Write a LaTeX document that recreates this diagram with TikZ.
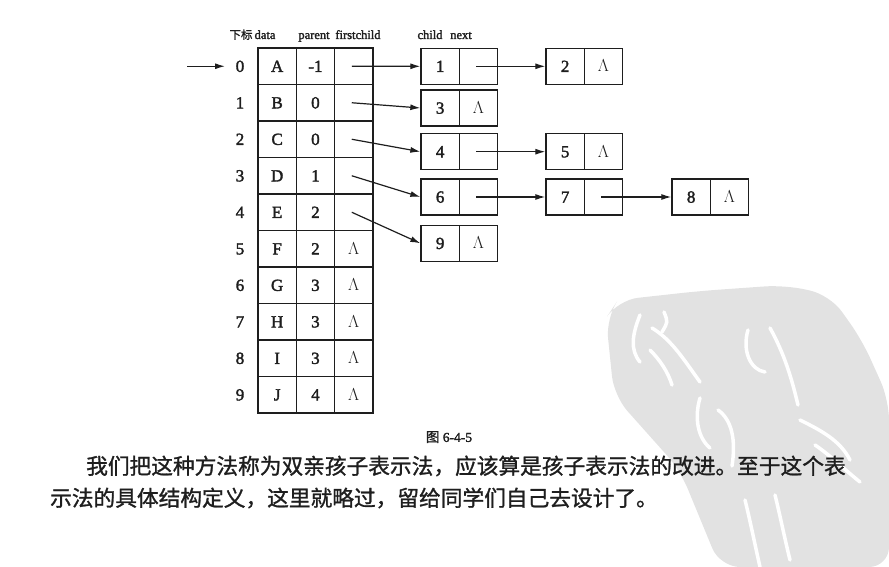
\documentclass[tikz,border=0pt]{standalone}
\usepackage{fontspec}
\setmainfont{Liberation Serif}
\newfontfamily\tabfont[FakeBold=2]{Liberation Serif}
\newfontfamily\cjkb[FakeBold=1.2]{Noto Sans CJK SC}
\usetikzlibrary{arrows.meta}
\definecolor{ink}{HTML}{1E1E1E}
\definecolor{wm}{HTML}{E2E2E2}
\tikzset{
  cell/.style={draw=ink, line width=1.3pt, minimum width=38.3pt, minimum height=36.5pt, inner sep=0pt, text=ink, text height=11.3pt, text depth=0pt, font=\tabfont\fontsize{17}{17}\selectfont},
  lcell/.style={cell, minimum height=36pt},
  idx/.style={text=ink, inner sep=0pt, text height=11.3pt, text depth=0pt, font=\tabfont\fontsize{17}{17}\selectfont},
  hdr/.style={text=ink, inner sep=0pt, anchor=base, font=\tabfont\fontsize{12.5}{12.5}\selectfont},
  arr/.style={draw=ink, line width=1.2pt, -{Latex[length=10pt,width=6pt]}},
  para/.style={text=ink, inner sep=0pt, anchor=west, font=\cjkb\fontsize{21.7}{26}\selectfont},
  wstroke/.style={draw=white, line width=3.5pt, line cap=round}
}
\begin{document}
\begin{tikzpicture}[x=1pt,y=-1pt]
\useasboundingbox (0,0) rectangle (889,567);
% watermark
\fill[wm, rounded corners=20pt] (606,318) -- (618,300) -- (700,291) -- (785,285) -- (830,295) -- (862,340) -- (889,400) -- (889,567) -- (720,567) -- (680,470) -- (614,396) -- cycle;
\draw[wstroke] (640,315) .. controls (632,335) and (630,350) .. (640,362);
\draw[wstroke] (652,328) .. controls (672,340) and (684,360) .. (700,382);
\draw[wstroke] (664,312) .. controls (668,322) .. (662,332);
\draw[wstroke] (650,350) .. controls (660,360) and (668,372) .. (672,385);
\draw[wstroke] (748,330) .. controls (742,350) and (750,370) .. (765,372);
\draw[wstroke] (770,328) .. controls (785,355) and (792,380) .. (798,405);
\draw[wstroke] (700,398) .. controls (694,418) and (698,438) .. (710,448);
\draw[wstroke] (718,410) .. controls (732,420) and (736,440) .. (732,466);
\draw[wstroke] (800,420) .. controls (820,430) and (840,440) .. (850,460);
\draw[wstroke] (815,445) .. controls (830,455) and (845,470) .. (860,482);
\draw[wstroke] (745,500) .. controls (750,520) and (755,545) .. (760,567);
\draw[wstroke] (775,495) .. controls (780,515) and (785,540) .. (790,560);
% header
\node[hdr] (h0) at (241,39) {\cjkb\fontsize{11.5}{11.5}\selectfont 下标};
\node[hdr] (h1) at (265,39) {data};
\node[hdr] (h2) at (314,39) {parent};
\node[hdr] (h3) at (358,39) {firstchild};
\node[hdr] (h4) at (430,39) {child};
\node[hdr] (h5) at (461,39) {next};
% table
\foreach \i/\d/\p/\f in {0/A/-1/,1/B/0/,2/C/0/,3/D/1/,4/E/2/,5/F/2/$\Lambda$,6/G/3/$\Lambda$,7/H/3/$\Lambda$,8/I/3/$\Lambda$,9/J/4/$\Lambda$}{
  \node[idx] (i\i) at (240,{66.25+36.5*\i}) {\i};
  \node[cell] (d\i) at (277.15,{66.25+36.5*\i}) {\d};
  \node[cell] (p\i) at (315.45,{66.25+36.5*\i}) {\p};
  \node[cell] (f\i) at (353.75,{66.25+36.5*\i}) {\f};
}
% linked nodes
\node[lcell] (c1) at (440.15,66.3) {1};
\node[lcell] (n1) at (478.45,66.3) {};
\node[lcell] (c2) at (565.15,66.3) {2};
\node[lcell] (n2) at (603.45,66.3) {$\Lambda$};
\node[lcell] (c3) at (440.15,108) {3};
\node[lcell] (n3) at (478.45,108) {$\Lambda$};
\node[lcell] (c4) at (440.15,151.7) {4};
\node[lcell] (n4) at (478.45,151.7) {};
\node[lcell] (c5) at (565.15,151.7) {5};
\node[lcell] (n5) at (603.45,151.7) {$\Lambda$};
\node[lcell] (c6) at (440.15,197) {6};
\node[lcell] (n6) at (478.45,197) {};
\node[lcell] (c7) at (565.15,197) {7};
\node[lcell] (n7) at (603.45,197) {};
\node[lcell] (c8) at (691.15,197) {8};
\node[lcell] (n8) at (729.45,197) {$\Lambda$};
\node[lcell] (c9) at (440.15,243.3) {9};
\node[lcell] (n9) at (478.45,243.3) {$\Lambda$};
% arrows
\coordinate (entry) at (187,66.25);
\draw[arr] (entry) -- ([xshift=-15pt]i0.center);
\draw[arr] ([xshift=-2pt]f0.center) -- (c1.west);
\draw[arr] ([xshift=-2pt]f1.center) -- (c3.west);
\draw[arr] ([xshift=-2pt]f2.center) -- (c4.west);
\draw[arr] ([xshift=-2pt]f3.center) -- (c6.west);
\draw[arr] ([xshift=-2pt]f4.center) -- (c9.west);
\draw[arr] ([xshift=-2pt]n1.center) -- (c2.west);
\draw[arr] ([xshift=-2pt]n4.center) -- (c5.west);
\draw[arr] ([xshift=-2pt]n6.center) -- (c7.west);
\draw[arr] ([xshift=-2pt]n7.center) -- (c8.west);
% caption and paragraph
\node[text=ink, inner sep=0pt, font=\tabfont\fontsize{13.5}{13.5}\selectfont] (cap) at (449,437) {{\cjkb 图} 6-4-5};
\node[para] (l1) at (86,466) {我们把这种方法称为双亲孩子表示法，应该算是孩子表示法的改进。至于这个表};
\node[para] (l2) at (50,498) {示法的具体结构定义，这里就略过，留给同学们自己去设计了。};
\end{tikzpicture}
\end{document}
